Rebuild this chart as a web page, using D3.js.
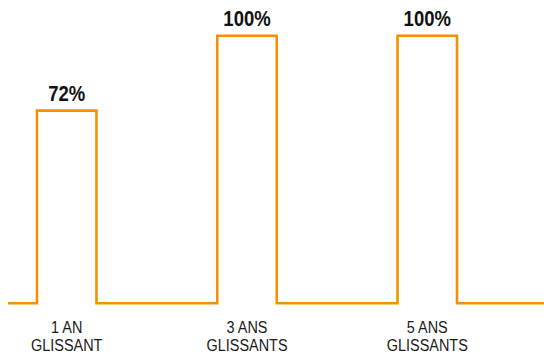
<!DOCTYPE html>
<html>
<head>
<meta charset="utf-8">
<script src="https://cdn.jsdelivr.net/npm/d3@7"></script>
<style>
  html, body { margin: 0; padding: 0; background: #fff; }
  svg { display: block; }
</style>
</head>
<body>
<svg id="chart" width="544" height="356"></svg>
<script>
// Rolling-period categories (two-line labels) and their percentages
const categories = ["1 AN|GLISSANT", "3 ANS|GLISSANTS", "5 ANS|GLISSANTS"];
const values = [72, 100, 100];
const valueLabels = values.map(v => v + "%");

const W = 544, H = 356;
const svg = d3.select("#chart");

const x = d3.scaleBand()
  .domain(categories)
  .range([37, 457])
  .paddingInner(0.67)
  .paddingOuter(0);

const y = d3.scaleLinear()
  .domain([0, 100])
  .range([303.3, 35.7]);

const lineColor = "#F39200";
const narrow = 0.86;

// Step outline: baseline running across, rising into a block for each category
const pts = [[8, y(0)]];
categories.forEach((c, i) => {
  const x0 = x(c), x1 = x(c) + x.bandwidth();
  pts.push([x0, y(0)], [x0, y(values[i])], [x1, y(values[i])], [x1, y(0)]);
});
pts.push([W, y(0)]);

svg.append("path")
  .attr("d", d3.line()(pts))
  .attr("fill", "none")
  .attr("stroke", lineColor)
  .attr("stroke-width", 2.6)
  .attr("stroke-linejoin", "miter");

// Value labels above each block
svg.append("g")
  .selectAll("text")
  .data(categories)
  .join("text")
  .attr("transform", (c, i) =>
    `translate(${x(c) + x.bandwidth() / 2},${y(values[i]) - 9.5}) scale(${narrow},1)`)
  .attr("text-anchor", "middle")
  .attr("font-family", "Liberation Sans, Arial, sans-serif")
  .attr("font-weight", "bold")
  .attr("font-size", 21.5)
  .attr("fill", "#111")
  .text((c, i) => valueLabels[i]);

// Category axis with two-line labels
const axis = d3.axisBottom(x).tickSize(0).tickPadding(0);
const gAxis = svg.append("g")
  .attr("transform", `translate(0,${y(0)})`)
  .call(axis);
gAxis.select(".domain").remove();
gAxis.selectAll(".tick text").each(function (d) {
  const t = d3.select(this);
  t.text(null)
    .attr("y", 0)
    .attr("dy", null)
    .attr("transform", `scale(${narrow},1)`)
    .attr("font-family", "Liberation Sans, Arial, sans-serif")
    .attr("font-size", 16.8)
    .attr("fill", "#1a1a1a");
  d.split("|").forEach((line, k) => {
    t.append("tspan")
      .attr("x", 0)
      .attr("y", 29.5 + k * 18)
      .text(line);
  });
});
</script>
</body>
</html>
